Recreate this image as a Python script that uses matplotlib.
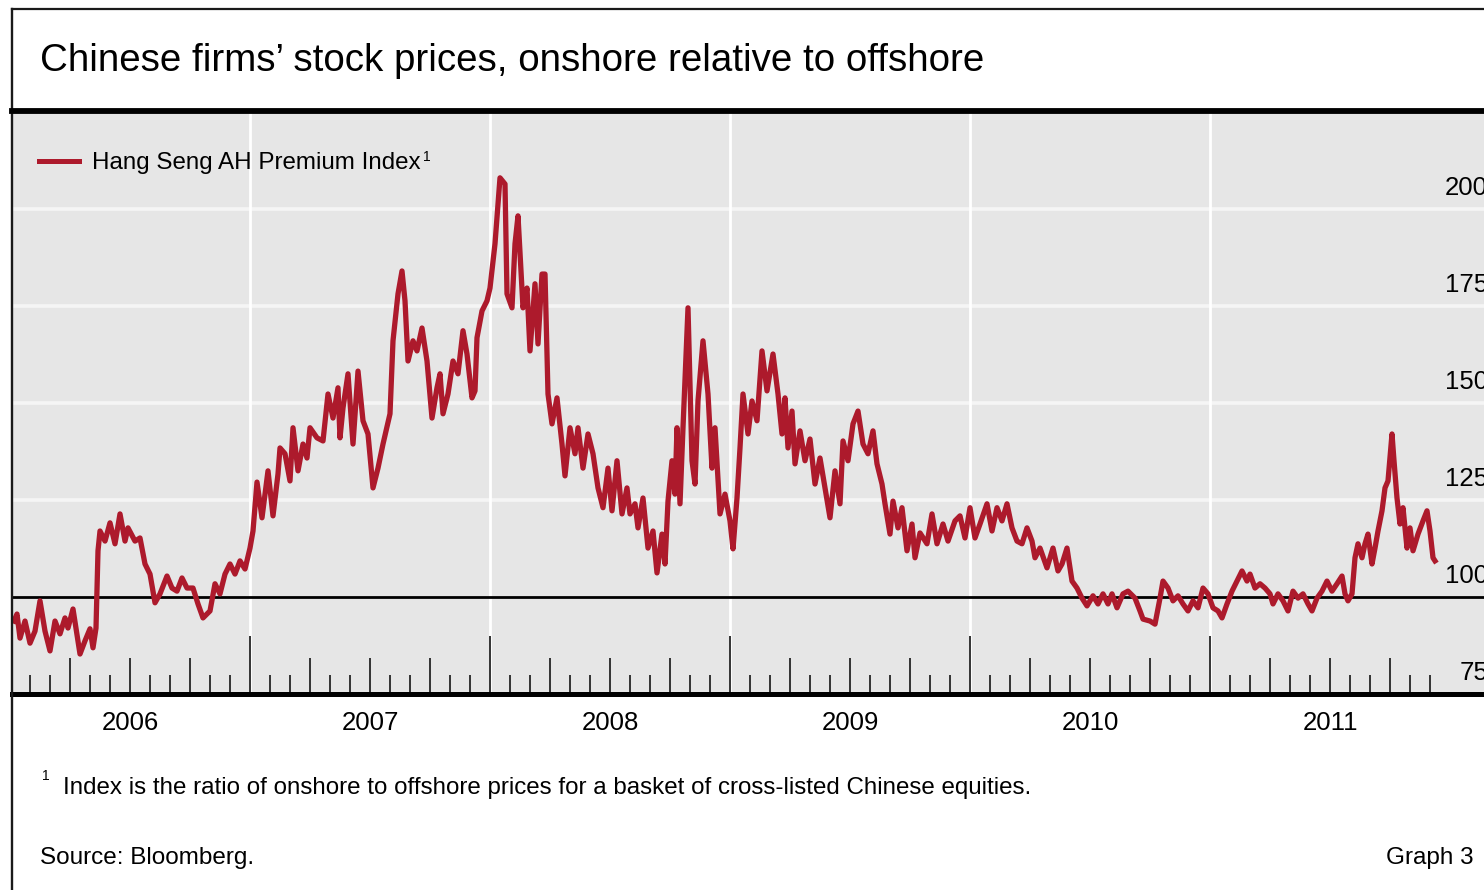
import numpy as np
import matplotlib.pyplot as plt
from matplotlib import font_manager
from matplotlib.lines import Line2D

# narrow sans if available (chart uses an Arial Narrow look), else Arial-like
installed = {f.name for f in font_manager.fontManager.ttflist}
FONT = "Liberation Sans Narrow" if "Liberation Sans Narrow" in installed else "Liberation Sans"
plt.rcParams['font.family'] = [FONT, 'DejaVu Sans']
SCALE = 1.18 if FONT == "Liberation Sans Narrow" else 1.0

RED = "#AD1A2C"
BG = "#E6E6E6"

# Hang Seng AH Premium Index
# time as months since 1 Jan 2006
months = [
    0.2, 0.35, 0.5, 0.75, 1.0, 1.25, 1.5, 1.75, 2.0, 2.25, 2.5, 2.75, 2.9, 3.15, 3.4, 3.5,
    3.75, 4.0, 4.15, 4.3, 4.4, 4.5, 4.75, 5.0, 5.25, 5.5, 5.75, 5.9, 6.25, 6.5, 6.75, 7.0,
    7.25, 7.5, 7.85, 8.1, 8.35, 8.6, 8.85, 9.15, 9.4, 9.65, 10.0, 10.25, 10.5, 10.75, 11.0,
    11.25, 11.5, 11.75, 12.0, 12.15, 12.35, 12.6, 12.9, 13.15, 13.4, 13.5, 13.75, 14.0,
    14.15, 14.4, 14.65, 14.85, 15.0, 15.35, 15.65, 15.9, 16.15, 16.4, 16.5, 16.65, 16.9,
    17.15, 17.4, 17.65, 17.9, 18.15, 18.4, 18.65, 19.0, 19.15, 19.4, 19.6, 19.75, 19.9,
    20.15, 20.35, 20.6, 20.85, 21.1, 21.35, 21.5, 21.65, 21.9, 22.15, 22.4, 22.65, 22.85,
    23.1, 23.25, 23.35, 23.6, 23.85, 24.0, 24.25, 24.5, 24.75, 24.85, 25.1, 25.25, 25.4,
    25.65, 25.85, 26.0, 26.25, 26.4, 26.6, 26.75, 26.9, 27.1, 27.35, 27.6, 27.75, 28.0,
    28.25, 28.4, 28.65, 28.9, 29.15, 29.4, 29.65, 29.9, 30.1, 30.35, 30.6, 30.85, 31.0,
    31.25, 31.4, 31.65, 31.9, 32.15, 32.35, 32.6, 32.75, 32.9, 33.1, 33.25, 33.35, 33.5,
    33.65, 33.9, 34.1, 34.25, 34.4, 34.65, 34.9, 35.1, 35.25, 35.5, 35.75, 36.0, 36.15,
    36.35, 36.5, 36.65, 36.9, 37.1, 37.35, 37.6, 37.85, 38.15, 38.4, 38.6, 38.75, 38.9,
    39.1, 39.25, 39.5, 39.75, 40.0, 40.25, 40.5, 40.75, 41.0, 41.25, 41.5, 41.65, 41.9,
    42.15, 42.4, 42.65, 42.9, 43.15, 43.35, 43.6, 43.75, 44.0, 44.15, 44.4, 44.6, 44.85,
    45.1, 45.25, 45.5, 45.85, 46.1, 46.35, 46.65, 46.9, 47.25, 47.5, 47.75, 48.0, 48.25,
    48.5, 48.85, 49.1, 49.35, 49.6, 49.85, 50.1, 50.35, 50.6, 50.85, 51.1, 51.25, 51.5,
    51.85, 52.15, 52.4, 52.6, 52.85, 53.1, 53.35, 53.6, 53.85, 54.15, 54.4, 54.65, 54.9,
    55.1, 55.35, 55.65, 55.9, 56.25, 56.5, 56.65, 57.0, 57.25, 57.5, 57.65, 57.9, 58.15,
    58.4, 58.65, 58.9, 59.15, 59.4, 59.65, 59.9, 60.15, 60.4, 60.6, 60.85, 61.1, 61.35,
    61.6, 61.85, 62.0, 62.25, 62.5, 62.75, 63.0, 63.15, 63.4, 63.65, 63.9, 64.15, 64.4,
    64.65, 64.9, 65.1, 65.35, 65.6, 65.85, 66.1, 66.35, 66.6, 66.75, 66.9, 67.1, 67.25,
    67.4, 67.6, 67.75, 67.9, 68.1, 68.25, 68.4, 68.6, 68.75, 68.9, 69.1, 69.2, 69.35,
    69.5, 69.65, 69.85, 70.0, 70.15, 70.4, 70.65, 70.85, 71.0, 71.15, 71.25,
]
premium = [
    93.8, 95.6, 89.4, 93.8, 88.1, 91.2, 99.0, 91.2, 86.1, 93.8, 90.5, 94.6, 92.0, 96.9, 88.7, 85.3,
    88.7, 91.8, 86.9, 92.0, 111.9, 117.0, 114.4, 119.1, 113.7, 121.4, 114.4, 117.8, 114.4, 115.2, 108.5, 105.9,
    98.5, 100.8, 105.4, 102.3, 101.5, 104.9, 102.3, 102.3, 98.2, 94.6, 96.4, 103.4, 100.8, 105.9, 108.5,
    105.9, 109.3, 107.2, 112.6, 117.0, 129.6, 120.4, 132.5, 120.9, 131.7, 138.4, 136.9, 129.9,
    143.6, 132.5, 139.4, 135.8, 143.6, 141.0, 140.2, 152.3, 146.1, 153.9, 141.0, 148.7, 157.5,
    139.4, 158.2, 145.4, 142.0, 128.1, 133.2, 139.4, 147.2, 166.0, 178.1, 184.0, 176.3, 160.8,
    166.0, 163.4, 169.3, 160.8, 146.1, 153.9, 157.5, 147.2, 152.3, 160.8, 157.5, 168.6, 162.6,
    151.3, 153.1, 166.8, 173.7, 176.3, 179.6, 191.0, 208.0, 206.4, 178.1, 174.5, 191.0, 198.2,
    174.5, 179.6, 163.4, 180.7, 165.2, 183.2, 183.2, 152.3, 144.6, 151.3, 139.4, 131.2, 143.6,
    136.9, 143.6, 133.2, 142.0, 136.9, 128.1, 123.0, 133.2, 122.2, 135.1, 121.4, 128.1, 121.4,
    124.0, 117.8, 125.5, 112.6, 117.0, 106.2, 116.2, 108.5, 124.7, 135.1, 126.5, 143.6, 124.0,
    143.6, 174.5, 135.1, 129.1, 150.5, 166.0, 152.3, 133.2, 143.6, 121.4, 126.5, 119.6, 112.4,
    125.5, 138.4, 152.3, 142.0, 150.5, 145.4, 163.4, 153.1, 162.6, 152.3, 142.0, 151.3, 138.4,
    147.9, 134.3, 142.8, 135.1, 140.7, 129.1, 135.8, 128.1, 120.4, 132.5, 124.0, 140.2, 135.1,
    144.6, 147.9, 139.4, 136.9, 142.8, 134.3, 129.1, 124.0, 116.2, 124.7, 117.8, 123.0, 111.9,
    118.8, 110.1, 116.5, 113.7, 121.4, 113.7, 118.8, 114.4, 119.6, 120.9, 115.2, 123.0, 115.2,
    118.8, 124.0, 117.0, 123.0, 119.6, 124.0, 117.8, 114.4, 113.7, 117.8, 114.4, 110.1, 112.6,
    107.5, 112.6, 106.7, 108.5, 112.6, 104.1, 102.3, 99.7, 97.7, 100.3, 98.2, 100.8, 98.2,
    100.8, 97.2, 100.8, 101.5, 99.7, 96.4, 94.3, 93.8, 93.0, 99.7, 104.1, 102.3, 99.0,
    100.3, 98.2, 96.4, 99.0, 97.2, 102.3, 100.8, 97.2, 96.4, 94.6, 98.2, 101.5, 104.1,
    106.7, 104.1, 105.9, 102.3, 103.4, 102.3, 100.8, 98.2, 100.8, 99.0, 96.4, 101.5, 99.7,
    100.8, 98.2, 96.4, 99.7, 101.5, 104.1, 101.5, 103.4, 105.4, 100.8, 99.0, 100.8, 110.1,
    113.7, 110.1, 113.7, 116.2, 108.5, 112.6, 117.0, 122.2, 128.1, 129.9, 142.0, 135.1, 125.5,
    118.8, 123.0, 112.6, 117.8, 111.9, 116.2, 119.6, 122.2, 117.0, 110.1, 109.3,
]

years = ["2006", "2007", "2008", "2009", "2010", "2011"]
y_levels = [75, 100, 125, 150, 175, 200]

W, H = 1484, 890
fig = plt.figure(figsize=(W / 100, H / 100), dpi=100)
fig.patch.set_facecolor("white")

# plot area runs past the right edge of the picture, as in the original
ax = fig.add_axes([12.5 / W, 1 - 694 / H, (1510 - 12.5) / W, (694 - 113) / H])
ax.set_facecolor(BG)
ax.set_xlim(0.125, 75)
ax.set_ylim(75, 224.7)

for s in ["top", "right", "left"]:
    ax.spines[s].set_visible(False)
ax.spines["bottom"].set_linewidth(3.6)
ax.spines["bottom"].set_color("black")

# grid
for lev in y_levels[2:]:
    ax.axhline(lev, color="#F5F5F5", lw=2.6, zorder=1)
for k in range(1, len(years)):
    ax.axvline(12 * k, color="white", lw=2.0, zorder=1)
ax.axhline(100, color="black", lw=2.0, zorder=2)

line, = ax.plot(months, premium, color=RED, lw=3.8, zorder=3,
                solid_joinstyle="round", label="Hang Seng AH Premium Index")

# month ticks inside, longer at quarters and years
ax.xaxis.remove_overlapping_locs = False
tick_pos = np.arange(1, 72)
ax.set_xticks(tick_pos)
ax.set_xticklabels([""] * len(tick_pos))
ax.tick_params(axis="x", which="major", direction="in", width=1.4, color="#333333")
for m, t in zip(tick_pos, ax.xaxis.get_major_ticks()):
    if m % 12 == 0:
        t.tick1line.set_markersize(42)
    elif m % 3 == 0:
        t.tick1line.set_markersize(26)
    else:
        t.tick1line.set_markersize(14)

ax.set_xticks([6 + 12 * i for i in range(len(years))], minor=True)
ax.set_xticklabels(years, minor=True)
ax.tick_params(axis="x", which="minor", length=0, pad=12, labelsize=18.5 * SCALE)
ax.set_yticks([])

# value labels on the right, sitting above their lines
for lev in y_levels:
    ax.text(73.9, lev + 5.4, str(lev), ha="right", va="center", fontsize=18.5 * SCALE, zorder=4)

# legend
leg = ax.legend(handles=[line], loc="center left", bbox_to_anchor=(39 / W, 1 - 163 / H),
                bbox_transform=fig.transFigure, frameon=False, fontsize=17.4 * SCALE,
                handlelength=1.65, handletextpad=0.55, borderaxespad=0, borderpad=0)
leg.get_lines()[0].set_linewidth(3.6)

# title and frame
fig.text(40 / W, 1 - 61 / H, "Chinese firms\u2019 stock prices, onshore relative to offshore",
         ha="left", va="center", fontsize=27.7 * SCALE)
fig.add_artist(Line2D([12.5 / W, 1], [1 - 8.5 / H] * 2, transform=fig.transFigure,
                      color="#1a1a1a", lw=1.6))
fig.add_artist(Line2D([12.5 / W, 12.5 / W], [1 - 8.5 / H, 0], transform=fig.transFigure,
                      color="#1a1a1a", lw=1.7))
fig.add_artist(Line2D([12.5 / W, 1], [1 - 111 / H] * 2, transform=fig.transFigure,
                      color="black", lw=4.2))

# footnote and source
fig.text(42 / W, 1 - 776 / H, "1", ha="left", va="center", fontsize=10)
fig.text(63 / W, 1 - 788 / H,
         "Index is the ratio of onshore to offshore prices for a basket of cross-listed Chinese equities.",
         ha="left", va="center", fontsize=17.35 * SCALE)
fig.text(40 / W, 1 - 858 / H, "Source: Bloomberg.", ha="left", va="center", fontsize=17.5 * SCALE)
fig.text(1474 / W, 1 - 858 / H, "Graph 3", ha="right", va="center", fontsize=17.5 * SCALE)

# footnote mark after the legend text, once its size is known
fig.canvas.draw()
bb = leg.get_texts()[0].get_window_extent()
fig.text((bb.x1 + 2) / W, (bb.y1 + 2) / H, "1", ha="left", va="top", fontsize=10)

fig.savefig("out.png", dpi=100, facecolor="white")
